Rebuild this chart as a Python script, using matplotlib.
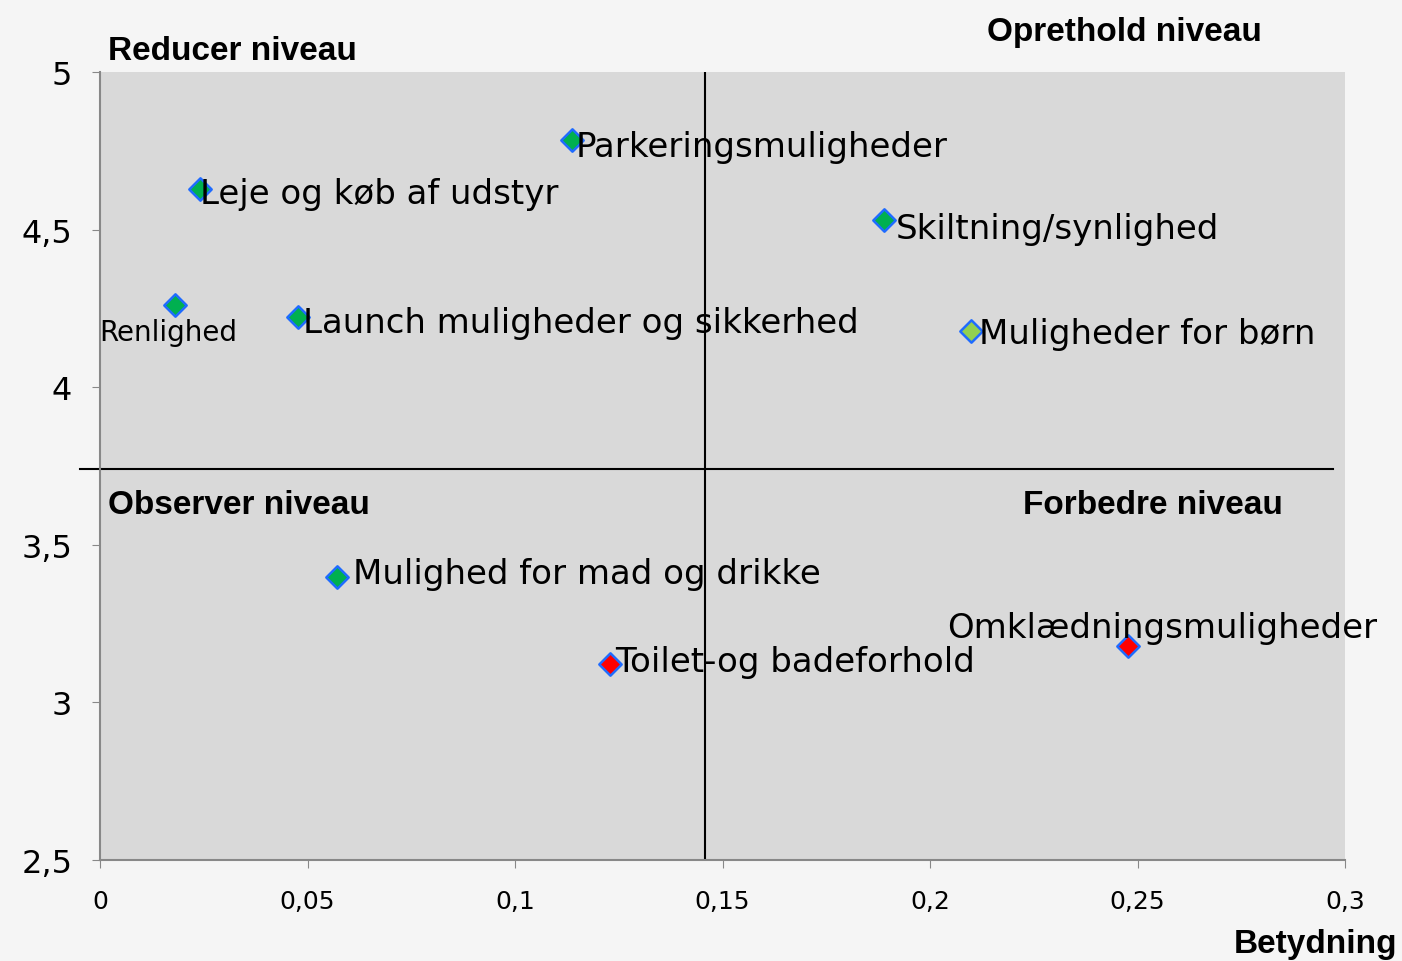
import matplotlib.pyplot as plt
from matplotlib.ticker import FuncFormatter

# Attributes: importance (x) vs. satisfaction (y)
labels = ['Parkeringsmuligheder', 'Leje og køb af udstyr', 'Skiltning/synlighed',
          'Renlighed', 'Launch muligheder og sikkerhed', 'Muligheder for børn',
          'Mulighed for mad og drikke', 'Toilet-og badeforhold', 'Omklædningsmuligheder']
betydning = [0.1137, 0.0241, 0.1890, 0.0181, 0.0477, 0.2099, 0.0571, 0.1229, 0.2477]
tilfredshed = [4.784, 4.629, 4.530, 4.261, 4.223, 4.178, 3.398, 3.122, 3.179]
farver = ['#00B050', '#00B050', '#00B050', '#00B050', '#00B050', '#92D050',
          '#00B050', '#FF0000', '#FF0000']

x_split = 0.1458
y_split = 3.74

# label offsets in pixels (dx, dy), plus alignment
placement = {
    'Parkeringsmuligheder': (4, -6, 'left', 'center'),
    'Leje og køb af udstyr': (0, -5, 'left', 'center'),
    'Skiltning/synlighed': (11, -8, 'left', 'center'),
    'Renlighed': (-7, -27, 'center', 'center'),
    'Launch muligheder og sikkerhed': (5, -6, 'left', 'center'),
    'Muligheder for børn': (8, -2, 'left', 'center'),
    'Mulighed for mad og drikke': (16, 3, 'left', 'center'),
    'Toilet-og badeforhold': (5, 2, 'left', 'center'),
    'Omklædningsmuligheder': (34, 9, 'center', 'baseline'),
}

fig = plt.figure(figsize=(14.02, 9.62), dpi=100, facecolor='#F5F5F5')
ax = fig.add_axes([100/1402, 1 - 861/962, 1245/1402, 788/962])
ax.set_facecolor('#D9D9D9')

for x, y, c in zip(betydning, tilfredshed, farver):
    ax.scatter(x, y, marker='D', s=130, color=c, edgecolor='#1F6BFF',
               linewidth=1.8, zorder=3)

for lab, x, y in zip(labels, betydning, tilfredshed):
    dx, dy, ha, va = placement[lab]
    size = 20 if lab == 'Renlighed' else 24.5
    ax.annotate(lab, (x, y), xytext=(dx * 0.72, dy * 0.72),
                textcoords='offset points', ha=ha, va=va, fontsize=size, zorder=4)

# quadrant dividers
ax.axvline(x_split, color='black', lw=1.5, zorder=2)
ax.plot([-0.0048, 0.2971], [y_split, y_split], color='black', lw=1.5,
        clip_on=False, zorder=2)

ax.set_xlim(0, 0.3)
ax.set_ylim(2.5, 5)
ax.set_xticks([0, 0.05, 0.1, 0.15, 0.2, 0.25, 0.3])
ax.set_yticks([2.5, 3, 3.5, 4, 4.5, 5])
fmt = FuncFormatter(lambda v, p: ('%g' % v).replace('.', ','))
ax.xaxis.set_major_formatter(fmt)
ax.yaxis.set_major_formatter(fmt)
ax.tick_params(axis='x', labelsize=18, direction='out', length=6,
               color='#888888', pad=15)
ax.tick_params(axis='y', labelsize=23, direction='out', length=6,
               color='#888888', pad=14)
for s in ['top', 'right']:
    ax.spines[s].set_visible(False)
for s in ['left', 'bottom']:
    ax.spines[s].set_color('#888888')
    ax.spines[s].set_linewidth(1.5)

bold = dict(fontsize=24, fontweight='bold', family='Liberation Sans')
fig.text(108/1402, 1 - 51/962, 'Reducer niveau', ha='left', va='center', **bold)
fig.text(1262/1402, 1 - 33/962, 'Oprethold niveau', ha='right', va='center', **bold)
fig.text(108/1402, 1 - 506/962, 'Observer niveau', ha='left', va='center', **bold)
fig.text(1283/1402, 1 - 506/962, 'Forbedre niveau', ha='right', va='center', **bold)
fig.text(1397/1402, 1 - 945/962, 'Betydning', ha='right', va='center', **bold)

fig.savefig('out.png', dpi=100, facecolor=fig.get_facecolor())
